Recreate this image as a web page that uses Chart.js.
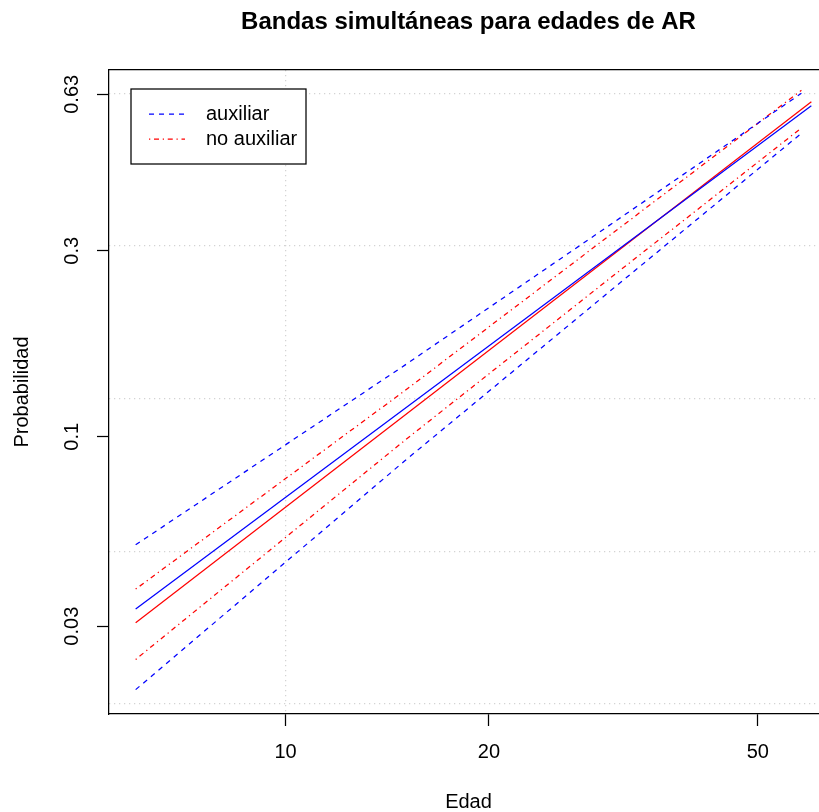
<!DOCTYPE html>
<html>
<head>
<meta charset="utf-8">
<script src="https://cdn.jsdelivr.net/npm/chart.js@4.4.1/dist/chart.umd.min.js"></script>
<style>
  html, body { margin: 0; padding: 0; background: #fff; overflow: hidden; }
  #wrap { width: 819px; height: 812px; overflow: hidden; }
  canvas { display: block; }
</style>
</head>
<body>
<div id="wrap"><canvas id="bandasChart" width="860" height="812"></canvas></div>
<script>
// Edades (años) y probabilidades
const edadesAjuste = [6, 60];
const edadesBanda = [6, 15, 30, 58];

const auxAjuste = [0.0335, 0.6025];
const auxInf = [0.0199, 0.0860, 0.2372, 0.5370];
const auxSup = [0.0506, 0.1549, 0.3420, 0.6324];

const noAuxAjuste = [0.0307, 0.6121];
const noAuxInf = [0.0242, 0.0977, 0.2553, 0.5495];
const noAuxSup = [0.0381, 0.1327, 0.3237, 0.6396];

const edadTicks = [10, 20, 50];
const probTicks = [0.03, 0.1, 0.3, 0.63];
const gridX = [10];
const gridY = [-4, -3, -2, -1, 0]; // en escala log(-log(1-p))

// ejes: log10(edad) y log(-log(1-p))
const tx = e => Math.log10(e);
const ty = p => Math.log(-Math.log(1 - p));
const puntos = (edades, probs) => edades.map((e, i) => ({ x: tx(e), y: ty(probs[i]) }));

const xMin = 0.7387, xMax = 1.8028;
const yMin = -4.0667, yMax = 0.1535;

const fam = "'Liberation Sans', Arial, Helvetica, sans-serif";
Chart.defaults.font.family = fam;
Chart.defaults.color = '#000';

const DASHED = [5, 5];
const DOTDASH = [1.25, 3.75, 5, 3.75];
const DOTTED = [1.25, 3.75];

const linea = (label, data, color, dash, leyenda) => ({
    label: label,
    data: data,
    borderColor: color,
    borderDash: dash,
    borderWidth: 1.25,
    pointRadius: 0,
    fill: false,
    leyenda: leyenda,
    xAxisID: 'x',
    yAxisID: 'y'
});

const datasets = [
    linea('auxiliar', puntos(edadesAjuste, auxAjuste), 'blue', [], false),
    linea('auxiliar', puntos(edadesBanda, auxSup), 'blue', DASHED, true),
    linea('auxiliar', puntos(edadesBanda, auxInf), 'blue', DASHED, false),
    linea('no auxiliar', puntos(edadesAjuste, noAuxAjuste), 'red', [], false),
    linea('no auxiliar', puntos(edadesBanda, noAuxSup), 'red', DOTDASH, true),
    linea('no auxiliar', puntos(edadesBanda, noAuxInf), 'red', DOTDASH, false)
];

// leyenda al estilo de R (caja blanca arriba a la izquierda)
const leyendaR = {
    id: 'leyendaR',
    afterDatasetsDraw(chart) {
        const { ctx, chartArea } = chart;
        const x0 = chartArea.left + 22, y0 = chartArea.top + 19;
        ctx.save();
        ctx.fillStyle = '#fff';
        ctx.fillRect(x0, y0, 175, 75);
        ctx.strokeStyle = '#000';
        ctx.lineWidth = 1.25;
        ctx.strokeRect(x0, y0, 175, 75);
        const entradas = chart.data.datasets.filter(d => d.leyenda);
        entradas.forEach((d, i) => {
            const y = y0 + 25 + i * 25;
            ctx.strokeStyle = d.borderColor;
            ctx.setLineDash(d.borderDash);
            ctx.beginPath();
            ctx.moveTo(x0 + 18, y);
            ctx.lineTo(x0 + 54, y);
            ctx.stroke();
            ctx.setLineDash([]);
            ctx.fillStyle = '#000';
            ctx.font = '20px ' + fam;
            ctx.textBaseline = 'middle';
            ctx.fillText(d.label, x0 + 75, y);
        });
        ctx.restore();
    }
};

const soloBorde = (pos, min, max, fit) => ({
    type: 'linear', position: pos, min: min, max: max,
    ticks: { display: false },
    grid: { display: false },
    border: { display: true, color: '#000', width: 1.25 },
    afterFit: fit
});

const ctx = document.getElementById('bandasChart').getContext('2d');
const bandasChart = new Chart(ctx, {
    type: 'line',
    data: { datasets: datasets },
    plugins: [leyendaR],
    options: {
        responsive: false,
        animation: false,
        devicePixelRatio: 1,
        layout: { padding: { left: 0, right: 32, top: 0, bottom: 0 } },
        plugins: {
            legend: { display: false },
            tooltip: { enabled: false },
            title: {
                display: true,
                text: 'Bandas simultáneas para edades de AR',
                fullSize: false,
                color: '#000',
                font: { size: 24, weight: 'bold', lineHeight: 1.2 },
                padding: { top: 7.6, bottom: 33.6 }
            }
        },
        scales: {
            x: {
                type: 'linear', position: 'bottom', min: xMin, max: xMax,
                afterBuildTicks: s => { s.ticks = edadTicks.map(e => ({ value: tx(e) })); },
                afterFit: s => { s.height = 98; },
                ticks: {
                    callback: (v, i) => String(edadTicks[i]),
                    font: { size: 20 }, padding: 14, maxRotation: 0, autoSkip: false
                },
                grid: { drawOnChartArea: false, tickLength: 12, tickColor: '#000', tickWidth: 1.25 },
                border: { display: true, color: '#000', width: 1.25 },
                title: { display: true, text: 'Edad', font: { size: 20, lineHeight: 1 }, padding: { top: 0, bottom: 0 } }
            },
            y: {
                type: 'linear', position: 'left', min: yMin, max: yMax,
                afterBuildTicks: s => { s.ticks = probTicks.map(p => ({ value: ty(p) })); },
                afterFit: s => { s.width = 109; },
                ticks: {
                    callback: (v, i) => String(probTicks[i]),
                    font: { size: 20 }, padding: 5, minRotation: 90, maxRotation: 90,
                    crossAlign: 'center', autoSkip: false
                },
                grid: { drawOnChartArea: false, tickLength: 12, tickColor: '#000', tickWidth: 1.25 },
                border: { display: true, color: '#000', width: 1.25 },
                title: { display: true, text: 'Probabilidad', font: { size: 20 }, padding: { top: 10, bottom: 0 } }
            },
            xGrid: {
                type: 'linear', position: 'bottom', min: xMin, max: xMax,
                afterBuildTicks: s => { s.ticks = gridX.map(e => ({ value: tx(e) })); },
                afterFit: s => { s.height = 0; },
                ticks: { display: false },
                grid: { drawOnChartArea: true, drawTicks: false, color: '#D3D3D3', lineWidth: 1.25 },
                border: { display: false, dash: DOTTED }
            },
            yGrid: {
                type: 'linear', position: 'left', min: yMin, max: yMax,
                afterBuildTicks: s => { s.ticks = gridY.map(v => ({ value: v })); },
                afterFit: s => { s.width = 0; },
                ticks: { display: false },
                grid: { drawOnChartArea: true, drawTicks: false, color: '#D3D3D3', lineWidth: 1.25 },
                border: { display: false, dash: DOTTED }
            },
            xTop: soloBorde('top', xMin, xMax, s => { s.height = 0; }),
            yRight: soloBorde('right', yMin, yMax, s => { s.width = 0; })
        }
    }
});
</script>
</body>
</html>
